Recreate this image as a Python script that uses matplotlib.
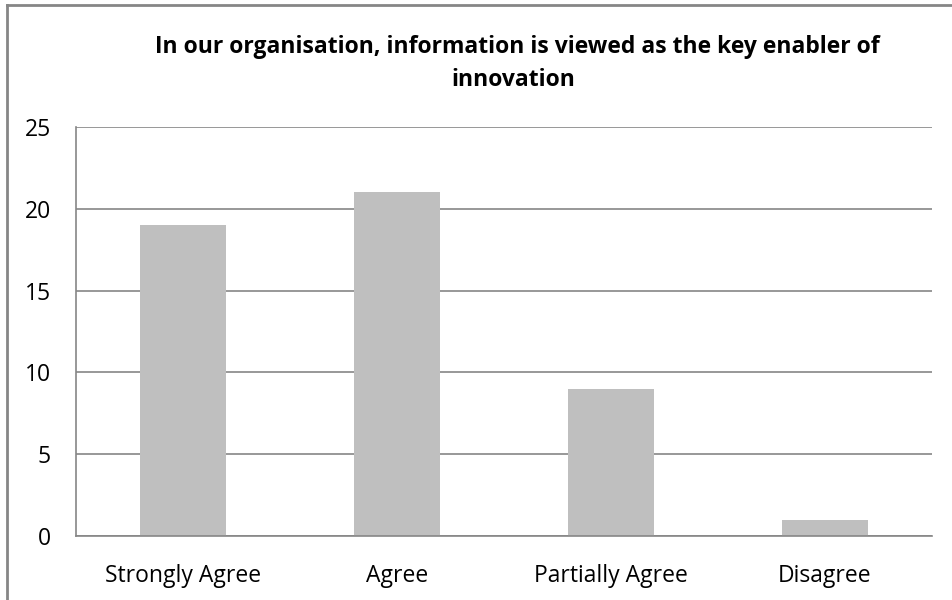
import matplotlib.pyplot as plt
from matplotlib.lines import Line2D

# survey responses
categories = ["Strongly Agree", "Agree", "Partially Agree", "Disagree"]
counts = [19, 21, 9, 1]
yticks = [0, 5, 10, 15, 20, 25]

plt.rcParams['font.family'] = ['Open Sans', 'DejaVu Sans']

fig = plt.figure(figsize=(9.52, 6.0), dpi=100)
ax = fig.add_axes([76 / 952, 1 - 536 / 600, 856 / 952, 409 / 600])

x = range(len(categories))
ax.bar(x, counts, width=0.4, color='#bfbfbf', zorder=2)

ax.set_xlim(-0.5, len(categories) - 0.5)
ax.set_ylim(0, 25)
ax.set_yticks(yticks)
ax.set_xticks(list(x))
ax.set_xticklabels(categories)
ax.tick_params(axis='both', length=0, labelsize=16.5, colors='#000000')
ax.tick_params(axis='y', pad=18)
ax.tick_params(axis='x', pad=20)
ax.grid(axis='y', color='#868686', linewidth=1.2, zorder=0)

for side in ['top', 'right']:
    ax.spines[side].set_visible(False)
for side in ['left', 'bottom']:
    ax.spines[side].set_color('#868686')
    ax.spines[side].set_linewidth(1.2)

fig.text(517 / 952, 1 - 47 / 600,
         "In our organisation, information is viewed as the key enabler of",
         ha='center', va='center', fontsize=16.5, fontweight='bold')
fig.text(513 / 952, 1 - 80 / 600, "innovation",
         ha='center', va='center', fontsize=16.5, fontweight='bold')

# outer frame edges (top and left)
fig.add_artist(Line2D([7 / 952, 1], [1 - 5 / 600, 1 - 5 / 600],
                      transform=fig.transFigure, color='#868686', linewidth=2))
fig.add_artist(Line2D([7 / 952, 7 / 952], [0, 1 - 5 / 600],
                      transform=fig.transFigure, color='#868686', linewidth=2))

fig.savefig('out.png', dpi=100)
